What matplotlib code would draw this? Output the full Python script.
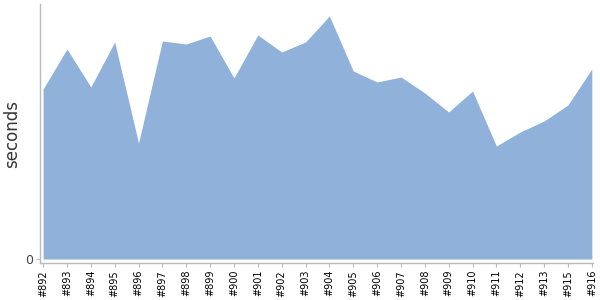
import matplotlib
matplotlib.use("Agg")
import matplotlib.pyplot as plt

# ---------------------------------------------------------------- data
builds = ["#892", "#893", "#894", "#895", "#896", "#897", "#898", "#899",
          "#900", "#901", "#902", "#903", "#904", "#905", "#906", "#907",
          "#908", "#909", "#910", "#911", "#912", "#913", "#915", "#916"]
seconds = [170, 210, 172, 217, 116, 218, 215, 223,
           181, 224, 207, 217, 243, 188, 177, 182,
           166, 147, 168, 113, 127, 138, 154, 190]

AREA_COLOR = "#8fb1da"
AXIS_COLOR = "#bbbbbb"

# ---------------------------------------------------------------- plot
fig = plt.figure(figsize=(6, 3), dpi=100)
ax = fig.add_axes([40 / 600, 37 / 300, 553 / 600, 259 / 300])

x = list(range(len(builds)))
ax.fill_between(x, 0, seconds, color=AREA_COLOR, lw=0)

ax.set_xlim(-0.13, len(builds) - 1 + 0.05)
ax.set_ylim(-4, 255)

ax.set_xticks(x)
ax.set_xticklabels(builds, rotation=90, fontsize=7)
ax.set_yticks([0])
ax.set_yticklabels(["0"], fontsize=9, color="#444444")
ax.set_ylabel("seconds", fontsize=12, color="#333333", labelpad=3)

for side in ("top", "right"):
    ax.spines[side].set_visible(False)
for side in ("left", "bottom"):
    ax.spines[side].set_color(AXIS_COLOR)
    ax.spines[side].set_linewidth(1)
ax.tick_params(axis="x", colors=AXIS_COLOR, labelcolor="black", length=3, pad=2)
ax.tick_params(axis="y", colors=AXIS_COLOR, labelcolor="#444444", length=3, pad=2)

fig.savefig("out.png", dpi=100)
